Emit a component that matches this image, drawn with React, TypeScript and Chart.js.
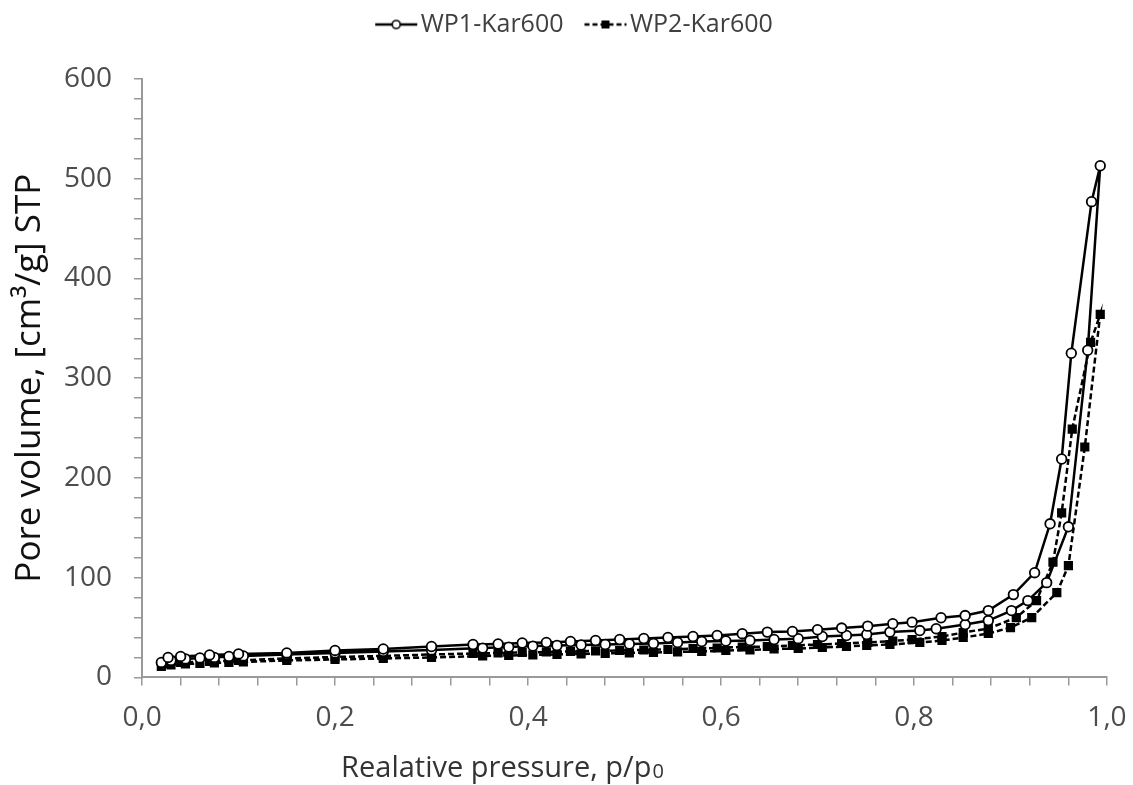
import React, { useEffect, useRef } from 'react';
import { Chart, registerables } from 'chart.js';

Chart.register(...registerables);

// ---- Data ----
const seriesNames = ['WP1-Kar600', 'WP2-Kar600'];

// WP1-Kar600 adsorption branch
const wp1AdsP = [0.02, 0.03, 0.045, 0.06, 0.075, 0.09, 0.105, 0.15, 0.2, 0.25, 0.3, 0.353, 0.38, 0.405, 0.43, 0.455, 0.48, 0.505, 0.53, 0.555, 0.58, 0.605, 0.63, 0.655, 0.68, 0.705, 0.73, 0.751, 0.775, 0.806, 0.823, 0.853, 0.877, 0.901, 0.918, 0.9375, 0.96, 0.98, 0.993];
const wp1AdsV = [15, 17, 18.5, 19.5, 20, 21, 21.5, 23, 24.5, 26, 27.5, 29.4, 30.4, 31.4, 32, 32.5, 33, 33.5, 34, 35, 36, 36.5, 37, 38, 38.8, 41, 42, 43, 45.4, 47, 48.8, 53, 57, 67, 77, 95, 151, 328, 513];
// WP1-Kar600 desorption branch
const wp1DesP = [0.984, 0.963, 0.953, 0.941, 0.925, 0.903, 0.877, 0.853, 0.828, 0.798, 0.778, 0.752, 0.725, 0.7, 0.674, 0.648, 0.622, 0.596, 0.571, 0.545, 0.52, 0.495, 0.47, 0.444, 0.419, 0.394, 0.369, 0.343, 0.3, 0.25, 0.2, 0.15, 0.1, 0.07, 0.04, 0.027];
const wp1DesV = [477, 325, 219, 154, 105, 83, 67, 62, 59.8, 55.4, 53.8, 51.4, 49.5, 47.8, 46, 45.4, 43.8, 42, 41, 40, 39, 38, 37, 36, 35, 34.5, 33.5, 33, 31, 28.5, 27, 24.5, 23.5, 22.5, 21, 20];

// WP2-Kar600 adsorption branch
const wp2AdsP = [0.02, 0.03, 0.045, 0.06, 0.075, 0.09, 0.105, 0.15, 0.2, 0.25, 0.3, 0.353, 0.38, 0.405, 0.43, 0.455, 0.48, 0.505, 0.53, 0.555, 0.58, 0.605, 0.63, 0.655, 0.68, 0.705, 0.73, 0.751, 0.775, 0.806, 0.829, 0.851, 0.877, 0.9, 0.922, 0.948, 0.96, 0.977, 0.993];
const wp2AdsV = [11, 12.5, 13.5, 14, 14.5, 15, 15.5, 17, 18, 19, 20, 21.5, 22, 22.5, 23, 23.5, 24, 24.5, 25, 25.5, 26, 27, 27.5, 28.5, 29, 30, 31, 32, 33, 35, 37, 40, 44, 50, 60, 85, 112, 231, 364];
// WP2-Kar600 desorption branch
const wp2DesP = [0.983, 0.964, 0.953, 0.944, 0.927, 0.906, 0.877, 0.851, 0.829, 0.798, 0.778, 0.752, 0.725, 0.7, 0.674, 0.648, 0.622, 0.596, 0.571, 0.545, 0.52, 0.495, 0.47, 0.444, 0.419, 0.394, 0.369, 0.343, 0.3, 0.25, 0.2, 0.15, 0.1, 0.07, 0.04, 0.027];
const wp2DesV = [336, 249, 165, 115.5, 77, 60, 49, 45, 41, 38, 36.5, 35, 34, 33, 32, 31, 30.5, 29.5, 29, 28, 27.5, 27, 26.5, 26, 25.5, 25, 24.5, 24, 23, 21.5, 20.5, 19, 17, 16, 15, 14];

// Axes
const xMin = 0;
const xMax = 1;
const xMinorStep = 0.04;
const xLabelStep = 0.2;
const yMin = 0;
const yMax = 600;
const yMinorStep = 20;
const yLabelStep = 100;
const xAxisTitle = 'Realative pressure, p/p';
const xAxisTitleSub = '0';
const yAxisTitle = 'Pore volume, [cm\u00B3/g] STP';

const FONT = '"Open Sans", "DejaVu Sans", sans-serif';

function toPoints(p1: number[], v1: number[], p2: number[], v2: number[]) {
  const pts = p1.map((p, i) => ({ x: p, y: v1[i] }));
  return pts.concat(p2.map((p, i) => ({ x: p, y: v2[i] })));
}

function isMultiple(v: number, step: number) {
  const r = v / step;
  return Math.abs(r - Math.round(r)) < 1e-6;
}

// Legend icon: line + marker, drawn with a left margin and overhanging right side
function makeLegendIcon(kind: 'circle' | 'square'): HTMLCanvasElement {
  const c = document.createElement('canvas');
  c.width = 64;
  c.height = 16;
  const g = c.getContext('2d')!;
  const x0 = 20;
  const x1 = 62;
  const cy = 8;
  g.strokeStyle = '#000';
  g.lineWidth = 2.5;
  if (kind === 'square') g.setLineDash([5, 3]);
  g.beginPath();
  g.moveTo(x0, cy);
  g.lineTo(x1, cy);
  g.stroke();
  g.setLineDash([]);
  const mx = (x0 + x1) / 2;
  if (kind === 'circle') {
    g.beginPath();
    g.arc(mx, cy, 4, 0, Math.PI * 2);
    g.fillStyle = '#fff';
    g.fill();
    g.lineWidth = 1.6;
    g.stroke();
  } else {
    g.fillStyle = '#000';
    g.fillRect(mx - 4, cy - 4, 8, 8);
  }
  return c;
}

const legendSpacePlugin = {
  id: 'legendSpace',
  beforeInit(chart: any) {
    const legend = chart.legend;
    if (!legend) return;
    const origFit = legend.fit;
    legend.fit = function () {
      origFit.call(this);
      this.height += 32;
    };
    const origDraw = legend.draw;
    legend.draw = function () {
      const ctx = this.ctx;
      ctx.save();
      ctx.translate(16, 0);
      origDraw.call(this);
      ctx.restore();
    };
  },
};

const xTitlePlugin = {
  id: 'xTitleCustom',
  afterDraw(chart: any) {
    const { ctx, chartArea } = chart;
    ctx.save();
    ctx.fillStyle = '#333';
    ctx.textBaseline = 'alphabetic';
    ctx.textAlign = 'left';
    ctx.font = `29px ${FONT}`;
    const w = ctx.measureText(xAxisTitle).width;
    ctx.font = `20px ${FONT}`;
    const ws = ctx.measureText(xAxisTitleSub).width;
    const total = w + ws;
    const cx = chartArea.left + (chartArea.right - chartArea.left) * 0.373;
    const x0 = cx - total / 2;
    const y = chartArea.bottom + 100;
    ctx.font = `29px ${FONT}`;
    ctx.fillText(xAxisTitle, x0, y);
    ctx.font = `20px ${FONT}`;
    ctx.fillText(xAxisTitleSub, x0 + w + 1, y + 1);
    ctx.restore();
  },
};

export default function App() {
  const ref = useRef<HTMLCanvasElement | null>(null);

  useEffect(() => {
    if (!ref.current) return;
    const icons = [makeLegendIcon('circle'), makeLegendIcon('square')];
    const chart = new Chart(ref.current, {
      type: 'scatter',
      data: {
        datasets: [
          {
            label: seriesNames[0],
            data: toPoints(wp1AdsP, wp1AdsV, wp1DesP, wp1DesV),
            showLine: true,
            borderColor: '#000',
            borderWidth: 2.5,
            pointStyle: 'circle',
            pointRadius: 4.8,
            pointBorderWidth: 1.8,
            pointBackgroundColor: '#fff',
            pointBorderColor: '#000',
            backgroundColor: '#fff',
          },
          {
            label: seriesNames[1],
            data: toPoints(wp2AdsP, wp2AdsV, wp2DesP, wp2DesV),
            showLine: true,
            borderColor: '#000',
            borderWidth: 2.5,
            borderDash: [6, 3],
            pointStyle: 'rect',
            pointRadius: 6.5,
            pointBorderWidth: 0,
            pointBackgroundColor: '#000',
            pointBorderColor: '#000',
            backgroundColor: '#000',
          },
        ],
      },
      options: {
        animation: false,
        responsive: false,
        maintainAspectRatio: false,
        layout: { padding: { top: 0, left: 0, right: 26, bottom: 34 } },
        plugins: {
          tooltip: { enabled: false },
          legend: {
            display: true,
            position: 'top',
            labels: {
              usePointStyle: true,
              pointStyleWidth: 42,
              padding: 12,
              color: '#404040',
              font: { family: FONT, size: 25 },
              generateLabels: (ch: any) => {
                const items = Chart.defaults.plugins.legend.labels.generateLabels(ch);
                return items.map((it: any, i: number) => ({ ...it, pointStyle: icons[i], lineWidth: 0 }));
              },
            },
          },
        },
        scales: {
          x: {
            type: 'linear',
            min: xMin,
            max: xMax,
            afterFit: (s: any) => {
              s.paddingRight = 0;
            },
            grid: {
              drawOnChartArea: false,
              drawTicks: true,
              tickLength: 8,
              color: '#999',
              lineWidth: 1.5,
            },
            border: { display: true, color: '#999', width: 2 },
            ticks: {
              stepSize: xMinorStep,
              autoSkip: false,
              maxRotation: 0,
              padding: 16,
              color: '#4d4d4d',
              font: { family: FONT, size: 28 },
              callback: (v: any) => (isMultiple(Number(v), xLabelStep) ? Number(v).toFixed(1).replace('.', ',') : ''),
            },
          },
          y: {
            type: 'linear',
            min: yMin,
            max: yMax,
            grid: {
              drawOnChartArea: false,
              drawTicks: true,
              tickLength: 8,
              color: '#999',
              lineWidth: 1.5,
            },
            border: { display: true, color: '#999', width: 2 },
            ticks: {
              stepSize: yMinorStep,
              autoSkip: false,
              padding: 22,
              color: '#4d4d4d',
              font: { family: FONT, size: 28 },
              callback: (v: any) => (isMultiple(Number(v), yLabelStep) ? String(Math.round(Number(v))) : ''),
            },
            title: {
              display: true,
              text: yAxisTitle,
              color: '#111',
              font: { family: FONT, size: 35 },
              padding: { top: 9, bottom: -9 },
            },
          },
        },
      },
      plugins: [legendSpacePlugin, xTitlePlugin],
    });
    return () => chart.destroy();
  }, []);

  return (
    <div style={{ position: 'fixed', left: 0, top: 0, width: 1133, height: 785, background: '#fff' }}>
      <canvas ref={ref} width={1133} height={785} style={{ width: 1133, height: 785 }} />
    </div>
  );
}
